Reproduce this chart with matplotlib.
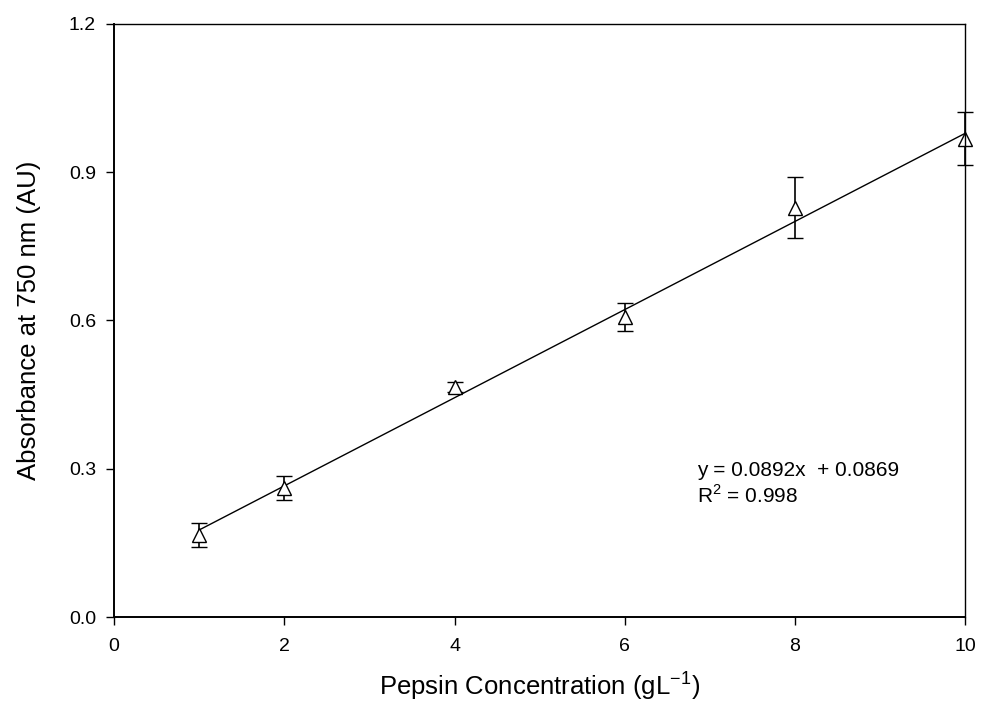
import matplotlib.pyplot as plt
import numpy as np

plt.rcParams['font.family'] = ['Liberation Sans', 'DejaVu Sans']

# pepsin concentration (g/L) and absorbance readings
conc = [1, 2, 4, 6, 8, 10]
absorbance = [0.166, 0.261, 0.466, 0.607, 0.828, 0.968]
err = [0.025, 0.024, 0.010, 0.028, 0.062, 0.054]

# linear fit reported on the chart
slope = 0.0892
intercept = 0.0869
r2 = 0.998


def calibration_plot() -> None:
    fig = plt.figure(figsize=(9.83, 7.22), dpi=100)
    ax = fig.add_axes([0.116, 0.1454, 0.866, 0.8214])

    fit_x = np.array([conc[0], conc[-1]])
    ax.plot(fit_x, slope * fit_x + intercept, color='black', lw=1.0)

    eb = ax.errorbar(conc, absorbance, yerr=err, fmt='^', ms=10,
                     mfc='white', mec='black', mew=1.0, ecolor='black',
                     elinewidth=1.2, capsize=6, capthick=1.2)
    for artist in eb.get_children():
        artist.set_clip_on(False)

    ax.set_xlim(0, 10)
    ax.set_ylim(0, 1.2)
    ax.set_xticks([0, 2, 4, 6, 8, 10])
    ax.set_yticks([0.0, 0.3, 0.6, 0.9, 1.2])
    ax.set_yticklabels(['0.0', '0.3', '0.6', '0.9', '1.2'])
    ax.tick_params(direction='out', length=6, width=1, labelsize=14)
    ax.tick_params(axis='x', pad=9)
    ax.tick_params(axis='y', pad=7)

    for s in ['top', 'right']:
        ax.spines[s].set_linewidth(1.0)
    for s in ['left', 'bottom']:
        ax.spines[s].set_linewidth(1.4)

    ax.set_xlabel('Pepsin Concentration (gL$^{\\mathregular{-1}}$)',
                  fontsize=18.5, labelpad=10)
    ax.set_ylabel('Absorbance at 750 nm (AU)', fontsize=18.5, labelpad=20)

    ax.text(6.85, 0.297, 'y = %.4fx  + %.4f' % (slope, intercept),
            fontsize=15, va='center')
    ax.text(6.85, 0.245, 'R$^{\\mathregular{2}}$ = %.3f' % r2,
            fontsize=15, va='center')

    fig.savefig('out.png', dpi=100)
    plt.close(fig)


if __name__ == "__main__":
    calibration_plot()
